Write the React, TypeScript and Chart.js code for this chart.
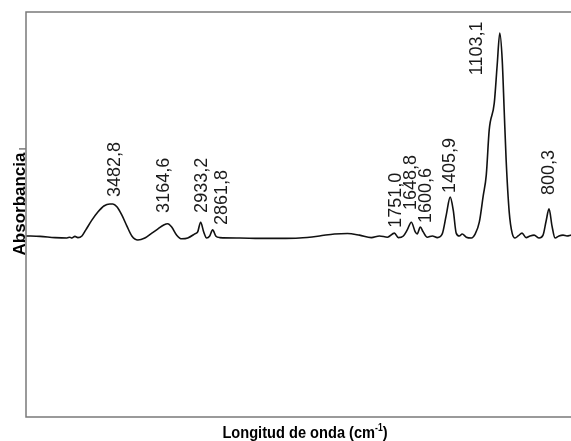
import React, { useEffect, useRef } from "react";
import { Chart, registerables } from "chart.js";

Chart.register(...registerables);

// Wavenumber (cm-1), reversed axis
const wavenumbers = [
  4017, 3931, 3839, 3765, 3747, 3735, 3716, 3698, 3673, 3649, 3612, 3575, 3538, 3501, 3483, 3458, 3428, 3397, 3366, 3329,
  3286, 3243, 3207, 3170, 3145, 3121, 3090, 3059, 3022, 2979, 2961, 2943, 2924, 2906, 2887, 2869, 2850, 2826, 2703, 2580,
  2457, 2335, 2212, 2120, 2040, 1966, 1893, 1843, 1794, 1751, 1727, 1696, 1672, 1647, 1623, 1611, 1592, 1574, 1549, 1518,
  1487, 1457, 1432, 1408, 1389, 1371, 1352, 1334, 1309, 1278, 1254, 1229, 1205, 1186, 1168, 1137, 1119, 1103, 1088, 1076,
  1064, 1045, 1027, 1009, 990, 966, 941, 917, 892, 861, 837, 818, 800, 782, 763, 739, 714, 690, 665,
];

const absorbance = [
  0.447, 0.446, 0.443, 0.442, 0.444, 0.442, 0.446, 0.443, 0.447, 0.462, 0.486, 0.506, 0.521, 0.526, 0.526, 0.519, 0.499, 0.472, 0.447, 0.437,
  0.442, 0.454, 0.464, 0.474, 0.477, 0.469, 0.449, 0.440, 0.442, 0.452, 0.457, 0.481, 0.457, 0.442, 0.447, 0.462, 0.447, 0.443, 0.442, 0.441,
  0.441, 0.442, 0.447, 0.452, 0.453, 0.449, 0.443, 0.447, 0.444, 0.454, 0.443, 0.447, 0.462, 0.481, 0.457, 0.452, 0.469, 0.457, 0.444, 0.447,
  0.443, 0.452, 0.499, 0.543, 0.510, 0.454, 0.447, 0.452, 0.444, 0.442, 0.452, 0.481, 0.546, 0.598, 0.709, 0.775, 0.869, 0.948, 0.881, 0.758,
  0.635, 0.506, 0.454, 0.442, 0.447, 0.454, 0.443, 0.447, 0.449, 0.442, 0.449, 0.484, 0.514, 0.472, 0.442, 0.447, 0.449, 0.447, 0.449,
];

// Peak annotations
const peakLabels = ["3482,8", "3164,6", "2933,2", "2861,8", "1751,0", "1648,8", "1600,6", "1405,9", "1103,1", "800,3"];
const peakLabelWn = [3470, 3170, 2936, 2814, 1739, 1647, 1555, 1407, 1242, 800];
const peakLabelA = [0.543, 0.504, 0.504, 0.474, 0.467, 0.511, 0.479, 0.553, 0.844, 0.548];

const xTitle = "Longitud de onda (cm";
const xTitleSup = "-1";
const yTitle = "Absorbancia";

const decorPlugin = {
  id: "decor",
  afterDatasetsDraw(chart: any) {
    const { ctx, chartArea, scales } = chart;
    const xs = scales.x;
    const ys = scales.y;
    ctx.save();
    // frame: left, top, bottom
    ctx.strokeStyle = "#7a7a7a";
    ctx.lineWidth = 1.5;
    ctx.beginPath();
    ctx.moveTo(chart.width, chartArea.top);
    ctx.lineTo(chartArea.left, chartArea.top);
    ctx.lineTo(chartArea.left, chartArea.bottom);
    ctx.lineTo(chart.width, chartArea.bottom);
    ctx.stroke();
    // small tick on left axis
    ctx.beginPath();
    ctx.moveTo(chartArea.left - 7, ys.getPixelForValue(0.662));
    ctx.lineTo(chartArea.left, ys.getPixelForValue(0.662));
    ctx.stroke();

    // peak labels
    ctx.fillStyle = "#1a1a1a";
    ctx.font = '18px "Liberation Sans", Arial, sans-serif';
    ctx.textAlign = "left";
    ctx.textBaseline = "middle";
    peakLabels.forEach((t, i) => {
      const px = xs.getPixelForValue(peakLabelWn[i]);
      const py = ys.getPixelForValue(peakLabelA[i]);
      ctx.save();
      ctx.translate(px, py);
      ctx.rotate(-Math.PI / 2);
      ctx.fillText(t, 0, 0);
      ctx.restore();
    });

    // y title
    ctx.fillStyle = "#000";
    ctx.font = 'bold 17px "Liberation Sans", Arial, sans-serif';
    ctx.textAlign = "center";
    ctx.textBaseline = "middle";
    ctx.save();
    ctx.translate(20, 204);
    ctx.rotate(-Math.PI / 2);
    ctx.fillText(yTitle, 0, 0);
    ctx.restore();

    // x title (condensed)
    ctx.save();
    ctx.textAlign = "left";
    ctx.textBaseline = "alphabetic";
    const sx = 0.86;
    ctx.font = 'bold 17px "Liberation Sans", Arial, sans-serif';
    const w1 = ctx.measureText(xTitle).width;
    ctx.font = 'bold 10px "Liberation Sans", Arial, sans-serif';
    const w2 = ctx.measureText(xTitleSup).width;
    ctx.font = 'bold 17px "Liberation Sans", Arial, sans-serif';
    const w3 = ctx.measureText(")").width;
    const total = (w1 + w2 + w3) * sx;
    const cx = 305;
    const baseY = 438;
    ctx.translate(cx - total / 2, baseY);
    ctx.scale(sx, 1);
    ctx.fillText(xTitle, 0, 0);
    ctx.font = 'bold 10px "Liberation Sans", Arial, sans-serif';
    ctx.fillText(xTitleSup, w1, -7);
    ctx.font = 'bold 17px "Liberation Sans", Arial, sans-serif';
    ctx.fillText(")", w1 + w2, 0);
    ctx.restore();

    ctx.restore();
  },
};

export default function App() {
  const ref = useRef<HTMLCanvasElement>(null);
  useEffect(() => {
    if (!ref.current) return;
    const data = wavenumbers.map((w, i) => ({ x: w, y: absorbance[i] }));
    const chart = new Chart(ref.current, {
      type: "line",
      data: {
        datasets: [
          {
            data,
            borderColor: "#111",
            borderWidth: 1.6,
            pointRadius: 0,
            fill: false,
            cubicInterpolationMode: "monotone",
          },
        ],
      },
      options: {
        animation: false,
        responsive: false,
        maintainAspectRatio: false,
        layout: { padding: { left: 26, top: 12, right: 0, bottom: 24 } },
        plugins: { legend: { display: false }, tooltip: { enabled: false } },
        scales: {
          x: { type: "linear", reverse: true, min: 665, max: 4017, display: false },
          y: { type: "linear", min: 0, max: 1, display: false },
        },
      },
      plugins: [decorPlugin],
    });
    return () => chart.destroy();
  }, []);
  return (
    <div style={{ position: "fixed", left: 0, top: 0, width: 571, height: 441, background: "#fff" }}>
      <canvas ref={ref} width={571} height={441} style={{ width: 571, height: 441 }} />
    </div>
  );
}
